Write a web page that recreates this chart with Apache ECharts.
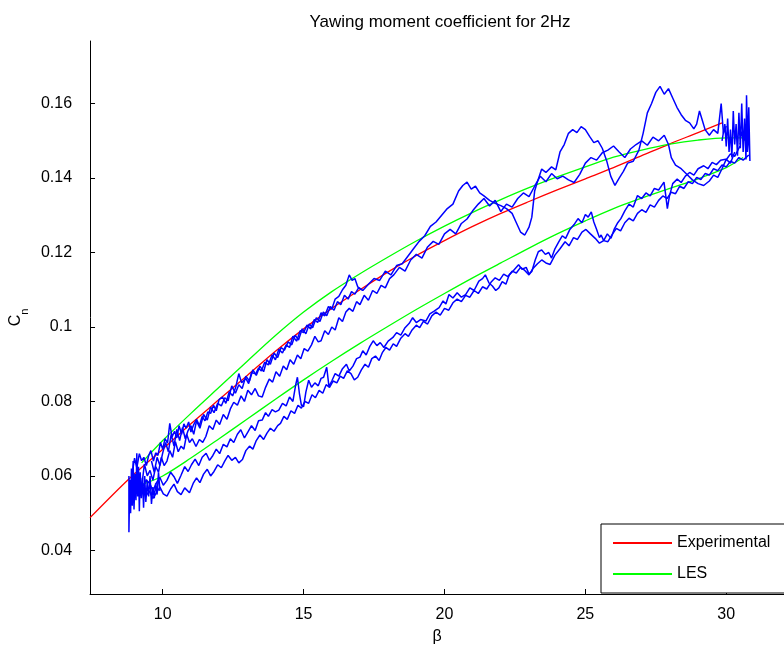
<!DOCTYPE html>
<html><head><meta charset="utf-8">
<script src="https://cdn.jsdelivr.net/npm/echarts@6/dist/echarts.min.js"></script>
<style>html,body{margin:0;padding:0;background:#fff}#c{width:784px;height:650px}</style>
</head><body><div id="c"></div>
<script>
const FONT = "'Liberation Sans', Arial, Helvetica, sans-serif";
const titleText = 'Yawing moment coefficient for 2Hz';
const xTicks = [10, 15, 20, 25, 30];
const yTicks = [0.04, 0.06, 0.08, 0.1, 0.12, 0.14, 0.16];

// Experimental (red)
const expBeta = [7.42, 8.8, 10, 11, 12, 13, 14, 15, 16, 17, 18, 19, 20, 21, 22, 23, 24, 25, 26, 27, 28, 29, 29.85];
const expCn   = [0.0488, 0.0592, 0.0672, 0.0740, 0.0805, 0.0870, 0.0935, 0.0995, 0.1050, 0.1100, 0.1148, 0.1192, 0.1232, 0.1270, 0.1305, 0.1337, 0.1368, 0.1398, 0.1428, 0.1460, 0.1492, 0.1522, 0.1548];

// LES (green) upper and lower branches
const lesBeta  = [9.25, 10, 11, 12, 13, 14, 15, 16, 17, 18, 19, 20, 21, 22, 23, 24, 25, 26, 27, 28, 29, 30, 30.6];
const lesUpCn  = [0.0635, 0.0695, 0.0768, 0.0838, 0.0908, 0.0977, 0.1040, 0.1095, 0.1143, 0.1188, 0.1231, 0.1271, 0.1308, 0.1342, 0.1374, 0.1403, 0.1430, 0.1456, 0.1475, 0.1491, 0.1502, 0.1508, 0.1508];
const lesLoCn  = [0.0577, 0.0600, 0.0648, 0.0700, 0.0753, 0.0806, 0.0858, 0.0908, 0.0956, 0.1002, 0.1047, 0.1090, 0.1132, 0.1172, 0.1212, 0.1250, 0.1285, 0.1318, 0.1346, 0.1372, 0.1398, 0.1428, 0.1455];

// Measured traces (blue), [beta, Cn]
const blueUpperA = [[8.90,0.0600],[9.00,0.0648],[9.08,0.0622],[9.17,0.0660],[9.25,0.0641],[9.33,0.0650],[9.42,0.0628],[9.50,0.0655],[9.58,0.0668],[9.67,0.0640],[9.75,0.0662],[9.83,0.0655],[9.92,0.0690],[10.00,0.0672],[10.08,0.0700],[10.17,0.0688],[10.25,0.0741],[10.33,0.0705],[10.42,0.0720],[10.50,0.0702],[10.58,0.0735],[10.67,0.0712],[10.75,0.0740],[10.83,0.0728],[10.92,0.0745],[11.00,0.0718],[11.10,0.0738],[11.20,0.0752],[11.30,0.0735],[11.40,0.0760],[11.50,0.0748],[11.60,0.0772],[11.70,0.0768],[11.80,0.0790],[11.90,0.0775],[12.00,0.0805],[12.12,0.0812],[12.24,0.0795],[12.36,0.0826],[12.48,0.0815],[12.59,0.0838],[12.70,0.0875],[12.80,0.0850],[12.95,0.0862],[13.05,0.0848],[13.15,0.0878],[13.30,0.0874],[13.40,0.0890],[13.50,0.0882],[13.62,0.0905],[13.75,0.0898],[13.88,0.0925],[14.00,0.0912],[14.12,0.0940],[14.25,0.0930],[14.38,0.0952],[14.50,0.0945],[14.62,0.0975],[14.75,0.0962],[14.88,0.0990],[15.00,0.0985],[15.12,0.1005],[15.25,0.0995],[15.38,0.1020],[15.50,0.1012],[15.62,0.1038],[15.75,0.1030],[15.88,0.1055],[16.00,0.1048],[16.12,0.1075],[16.25,0.1082],[16.38,0.1100],[16.50,0.1112],[16.62,0.1140],[16.72,0.1125],[16.82,0.1130],[16.92,0.1108],[17.10,0.1098],[17.30,0.1115],[17.50,0.1130],[17.70,0.1125],[17.90,0.1150],[18.10,0.1140],[18.30,0.1165],[18.50,0.1170],[18.70,0.1190],[18.90,0.1210],[19.10,0.1230],[19.30,0.1245],[19.50,0.1270],[19.70,0.1282],[19.90,0.1300],[20.10,0.1318],[20.30,0.1330],[20.50,0.1365],[20.65,0.1380],[20.80,0.1389],[20.95,0.1370],[21.10,0.1378],[21.25,0.1360],[21.40,0.1352],[21.60,0.1340],[21.80,0.1332],[22.00,0.1326],[22.20,0.1318],[22.40,0.1305],[22.55,0.1280],[22.70,0.1255],[22.85,0.1247],[23.00,0.1268],[23.10,0.1295],[23.20,0.1365],[23.30,0.1390],[23.45,0.1424],[23.60,0.1415],[23.80,0.1430],[23.95,0.1422],[24.10,0.1470],[24.25,0.1490],[24.40,0.1520],[24.55,0.1530],[24.70,0.1522],[24.85,0.1538],[25.00,0.1530],[25.15,0.1512],[25.30,0.1495],[25.45,0.1500],[25.60,0.1480],[25.75,0.1448],[25.90,0.1405],[26.05,0.1380],[26.20,0.1400],[26.35,0.1418],[26.50,0.1440],[26.70,0.1445],[26.90,0.1475],[27.05,0.1520],[27.20,0.1575],[27.35,0.1600],[27.50,0.1630],[27.65,0.1646],[27.80,0.1625],[27.95,0.1640],[28.10,0.1615],[28.25,0.1590],[28.40,0.1570],[28.55,0.1555],[28.70,0.1548],[28.85,0.1532],[28.95,0.1545],[29.05,0.1580],[29.15,0.1555],[29.25,0.1530],[29.40,0.1515],[29.55,0.1530],[29.70,0.1520],[29.82,0.1600],[29.90,0.1520],[30.00,0.1540]];

const blueUpperB = [[8.85,0.0560],[8.95,0.0612],[9.05,0.0580],[9.15,0.0598],[9.25,0.0570],[9.35,0.0632],[9.45,0.0600],[9.55,0.0615],[9.65,0.0588],[9.75,0.0625],[9.85,0.0610],[9.95,0.0650],[10.05,0.0628],[10.15,0.0640],[10.25,0.0668],[10.35,0.0650],[10.45,0.0692],[10.55,0.0665],[10.65,0.0680],[10.75,0.0672],[10.85,0.0712],[10.95,0.0690],[11.05,0.0700],[11.18,0.0679],[11.30,0.0698],[11.42,0.0690],[11.53,0.0706],[11.65,0.0735],[11.78,0.0725],[11.90,0.0750],[12.02,0.0738],[12.15,0.0765],[12.28,0.0752],[12.40,0.0780],[12.52,0.0798],[12.65,0.0790],[12.78,0.0815],[12.90,0.0800],[13.02,0.0830],[13.15,0.0818],[13.28,0.0835],[13.40,0.0815],[13.53,0.0812],[13.65,0.0838],[13.78,0.0860],[13.90,0.0852],[14.02,0.0880],[14.15,0.0868],[14.28,0.0895],[14.40,0.0885],[14.52,0.0912],[14.65,0.0900],[14.78,0.0925],[14.90,0.0915],[15.02,0.0942],[15.15,0.0935],[15.28,0.0952],[15.40,0.0975],[15.52,0.0960],[15.62,0.0963],[15.75,0.0990],[15.88,0.0980],[16.00,0.1000],[16.12,0.0992],[16.25,0.1025],[16.38,0.1015],[16.50,0.1040],[16.62,0.1050],[16.75,0.1042],[16.88,0.1068],[17.00,0.1060],[17.15,0.1085],[17.30,0.1072],[17.45,0.1098],[17.60,0.1090],[17.75,0.1112],[17.90,0.1105],[18.05,0.1130],[18.20,0.1140],[18.40,0.1160],[18.60,0.1150],[18.80,0.1180],[19.00,0.1195],[19.20,0.1185],[19.40,0.1215],[19.60,0.1230],[19.80,0.1222],[20.00,0.1250],[20.20,0.1262],[20.40,0.1250],[20.60,0.1278],[20.80,0.1290],[21.00,0.1312],[21.20,0.1330],[21.40,0.1345],[21.60,0.1325],[21.80,0.1340],[22.00,0.1310],[22.20,0.1330],[22.40,0.1322],[22.60,0.1345],[22.80,0.1360],[23.00,0.1350],[23.20,0.1378],[23.40,0.1405],[23.60,0.1390],[23.80,0.1412],[24.00,0.1398],[24.20,0.1405],[24.40,0.1395],[24.60,0.1388],[24.80,0.1410],[25.00,0.1440],[25.20,0.1455],[25.40,0.1448],[25.60,0.1468],[25.80,0.1475],[26.00,0.1486],[26.20,0.1470],[26.40,0.1455],[26.60,0.1478],[26.80,0.1490],[27.00,0.1500],[27.20,0.1488],[27.40,0.1510],[27.60,0.1500],[27.80,0.1515],[27.95,0.1490],[28.05,0.1455],[28.20,0.1435],[28.40,0.1425],[28.60,0.1410],[28.80,0.1395],[29.00,0.1385],[29.20,0.1380],[29.40,0.1392],[29.55,0.1408],[29.70,0.1402],[29.85,0.1425],[30.00,0.1450],[30.15,0.1440],[30.30,0.1470]];

const blueUpperC = [[9.60,0.0640],[9.70,0.0610],[9.80,0.0650],[9.90,0.0628],[10.00,0.0662],[10.10,0.0690],[10.20,0.0665],[10.30,0.0712],[10.40,0.0680],[10.50,0.0725],[10.60,0.0695],[10.70,0.0730],[10.80,0.0700],[10.90,0.0722],[11.00,0.0735],[11.10,0.0712],[11.20,0.0748],[11.32,0.0728],[11.45,0.0765],[11.58,0.0750],[11.70,0.0785],[11.82,0.0770],[11.95,0.0795],[12.08,0.0788],[12.20,0.0810],[12.32,0.0802],[12.45,0.0842],[12.58,0.0822],[12.70,0.0845],[12.82,0.0835],[12.95,0.0868],[13.08,0.0855],[13.20,0.0885],[13.32,0.0870],[13.45,0.0895],[13.58,0.0880],[13.70,0.0912],[13.82,0.0900],[13.95,0.0930],[14.08,0.0918],[14.20,0.0945],[14.32,0.0938],[14.45,0.0960],[14.58,0.0952],[14.70,0.0978],[14.82,0.0965],[14.95,0.0995],[15.08,0.0982],[15.20,0.1008],[15.32,0.0998],[15.45,0.1025],[15.58,0.1015],[15.70,0.1040],[15.82,0.1030],[15.95,0.1055],[16.08,0.1045],[16.20,0.1068],[16.32,0.1060],[16.45,0.1085],[16.58,0.1075],[16.70,0.1095],[16.82,0.1088],[16.95,0.1105],[17.08,0.1100]];

const blueLowerA = [[9.30,0.0572],[9.42,0.0590],[9.55,0.0578],[9.65,0.0560],[9.78,0.0582],[9.90,0.0596],[10.02,0.0575],[10.15,0.0588],[10.28,0.0610],[10.40,0.0598],[10.52,0.0580],[10.65,0.0602],[10.78,0.0625],[10.90,0.0612],[11.02,0.0630],[11.15,0.0645],[11.28,0.0628],[11.40,0.0650],[11.54,0.0661],[11.66,0.0642],[11.78,0.0655],[11.90,0.0672],[12.02,0.0660],[12.15,0.0685],[12.28,0.0678],[12.40,0.0700],[12.52,0.0690],[12.65,0.0712],[12.77,0.0724],[12.90,0.0702],[13.02,0.0718],[13.15,0.0735],[13.28,0.0722],[13.40,0.0748],[13.53,0.0750],[13.65,0.0770],[13.75,0.0760],[13.88,0.0778],[14.00,0.0772],[14.12,0.0777],[14.25,0.0795],[14.38,0.0788],[14.50,0.0812],[14.62,0.0800],[14.72,0.0845],[14.78,0.0865],[14.85,0.0822],[14.92,0.0790],[15.00,0.0786],[15.08,0.0825],[15.18,0.0857],[15.28,0.0838],[15.40,0.0850],[15.52,0.0842],[15.62,0.0862],[15.71,0.0865],[15.82,0.0892],[15.90,0.0840],[16.00,0.0855],[16.12,0.0875],[16.25,0.0868],[16.38,0.0888],[16.52,0.0900],[16.62,0.0882],[16.75,0.0895],[16.88,0.0915],[17.00,0.0919],[17.10,0.0936],[17.22,0.0925],[17.35,0.0948],[17.47,0.0963],[17.60,0.0950],[17.72,0.0958],[17.85,0.0945],[18.00,0.0962],[18.17,0.0972],[18.30,0.0985],[18.45,0.0978],[18.60,0.0998],[18.75,0.1010],[18.87,0.1025],[19.00,0.1012],[19.15,0.1020],[19.34,0.1016],[19.48,0.1035],[19.62,0.1042],[19.81,0.1052],[19.95,0.1070],[20.05,0.1062],[20.16,0.1087],[20.30,0.1078],[20.45,0.1092],[20.60,0.1080],[20.75,0.1087],[20.90,0.1105],[21.05,0.1098],[21.22,0.1123],[21.35,0.1130],[21.45,0.1140],[21.58,0.1118],[21.70,0.1110],[21.82,0.1098],[21.93,0.1105],[22.05,0.1122],[22.18,0.1115],[22.30,0.1140],[22.45,0.1152],[22.63,0.1167],[22.75,0.1155],[22.90,0.1160],[23.00,0.1142],[23.10,0.1149],[23.22,0.1180],[23.33,0.1202],[23.45,0.1207],[23.58,0.1195],[23.70,0.1200],[23.80,0.1185],[23.92,0.1210],[24.05,0.1228],[24.18,0.1245],[24.30,0.1238],[24.45,0.1262],[24.60,0.1275],[24.74,0.1291],[24.88,0.1280],[25.00,0.1302],[25.10,0.1295],[25.21,0.1309],[25.30,0.1282],[25.40,0.1262],[25.50,0.1240],[25.56,0.1247],[25.65,0.1232],[25.78,0.1250],[25.91,0.1238],[26.02,0.1262],[26.15,0.1280],[26.26,0.1291],[26.40,0.1312],[26.55,0.1330],[26.70,0.1322],[26.85,0.1353],[27.00,0.1345],[27.15,0.1360],[27.30,0.1352],[27.45,0.1372],[27.60,0.1368],[27.79,0.1389],[27.85,0.1355],[27.91,0.1318],[27.98,0.1350],[28.10,0.1385],[28.26,0.1397],[28.40,0.1388],[28.55,0.1405],[28.70,0.1415],[28.85,0.1408],[29.00,0.1425],[29.20,0.1433],[29.35,0.1425],[29.50,0.1442],[29.65,0.1436],[29.80,0.1448],[30.02,0.1451],[30.15,0.1465],[30.30,0.1458],[30.49,0.1486]];

const blueLowerB = [[9.40,0.0545],[9.52,0.0560],[9.65,0.0540],[9.78,0.0555],[9.90,0.0570],[10.02,0.0552],[10.15,0.0546],[10.28,0.0565],[10.40,0.0578],[10.52,0.0558],[10.65,0.0550],[10.78,0.0568],[10.95,0.0555],[11.08,0.0580],[11.20,0.0595],[11.32,0.0582],[11.45,0.0605],[11.58,0.0618],[11.70,0.0600],[11.82,0.0612],[11.95,0.0630],[12.08,0.0622],[12.20,0.0640],[12.32,0.0655],[12.45,0.0642],[12.58,0.0650],[12.70,0.0635],[12.83,0.0644],[12.95,0.0668],[13.08,0.0680],[13.20,0.0672],[13.32,0.0695],[13.45,0.0710],[13.58,0.0698],[13.70,0.0715],[13.82,0.0728],[13.95,0.0720],[14.08,0.0735],[14.18,0.0741],[14.30,0.0760],[14.42,0.0752],[14.55,0.0775],[14.68,0.0768],[14.80,0.0790],[14.92,0.0782],[15.05,0.0800],[15.18,0.0795],[15.30,0.0818],[15.42,0.0810],[15.55,0.0830],[15.68,0.0822],[15.80,0.0845],[15.92,0.0838],[16.05,0.0855],[16.18,0.0850],[16.30,0.0868],[16.42,0.0862],[16.55,0.0882],[16.68,0.0875],[16.80,0.0858],[16.92,0.0865],[17.05,0.0885],[17.18,0.0900],[17.30,0.0892],[17.42,0.0915],[17.55,0.0922],[17.68,0.0910],[17.80,0.0932],[17.92,0.0945],[18.05,0.0938],[18.18,0.0955],[18.30,0.0948],[18.45,0.0970],[18.60,0.0982],[18.72,0.0975],[18.85,0.0992],[19.00,0.1005],[19.12,0.0998],[19.25,0.1015],[19.40,0.1008],[19.55,0.1030],[19.70,0.1040],[19.85,0.1032],[20.00,0.1050],[20.15,0.1045],[20.30,0.1065],[20.45,0.1075],[20.60,0.1068],[20.75,0.1085],[20.90,0.1080],[21.05,0.1098],[21.20,0.1090],[21.35,0.1108],[21.50,0.1102],[21.65,0.1120],[21.80,0.1132],[21.95,0.1125],[22.10,0.1142],[22.25,0.1135],[22.40,0.1150],[22.55,0.1145],[22.70,0.1160],[22.85,0.1152],[23.00,0.1140],[23.15,0.1158],[23.30,0.1170],[23.45,0.1180],[23.60,0.1172],[23.75,0.1168],[23.92,0.1193],[24.10,0.1210],[24.28,0.1229],[24.42,0.1218],[24.58,0.1240],[24.72,0.1235],[24.88,0.1255],[25.02,0.1262],[25.18,0.1250],[25.35,0.1238],[25.50,0.1225],[25.65,0.1232],[25.80,0.1229],[25.95,0.1248],[26.10,0.1265],[26.25,0.1258],[26.40,0.1280],[26.55,0.1292],[26.70,0.1285],[26.85,0.1305],[27.00,0.1315],[27.15,0.1308],[27.30,0.1328],[27.45,0.1322],[27.60,0.1340],[27.75,0.1352],[27.90,0.1345],[28.05,0.1362],[28.20,0.1358],[28.35,0.1378],[28.50,0.1372],[28.65,0.1390],[28.80,0.1385],[28.95,0.1402],[29.10,0.1396],[29.25,0.1412],[29.40,0.1408],[29.55,0.1425],[29.70,0.1420],[29.85,0.1435],[30.00,0.1430],[30.15,0.1445],[30.30,0.1440],[30.45,0.1455],[30.60,0.1448],[30.80,0.1462]];

const blueLeftEnd = [[8.80,0.0600],[8.80,0.0449],[8.83,0.0590],[8.86,0.0500],[8.89,0.0620],[8.92,0.0520],[8.95,0.0640],[8.98,0.0510],[9.02,0.0605],[9.05,0.0535],[9.08,0.0661],[9.11,0.0545],[9.14,0.0625],[9.17,0.0505],[9.20,0.0610],[9.24,0.0540],[9.28,0.0595],[9.32,0.0515],[9.36,0.0600],[9.40,0.0530],[9.45,0.0585],[9.50,0.0545],[9.55,0.0600],[9.60,0.0525],[9.65,0.0570],[9.70,0.0540],[9.75,0.0580],[9.80,0.0550],[9.85,0.0610],[9.90,0.0560]];

const blueRightEnd = [[29.85,0.1500],[29.95,0.1545],[30.00,0.1485],[30.05,0.1560],[30.10,0.1470],[30.15,0.1530],[30.20,0.1455],[30.25,0.1580],[30.30,0.1490],[30.35,0.1545],[30.40,0.1460],[30.45,0.1575],[30.50,0.1480],[30.55,0.1600],[30.60,0.1470],[30.65,0.1560],[30.70,0.1450],[30.72,0.1622],[30.76,0.1490],[30.80,0.1590],[30.84,0.1446],[30.80,0.1530],[30.75,0.1470],[30.70,0.1545],[30.62,0.1500],[30.55,0.1525],[30.48,0.1490]];

const zip = (a, b) => a.map((v, i) => [v, b[i]]);
const blueTraces = [blueUpperA, blueUpperB, blueUpperC, blueLowerA, blueLowerB, blueLeftEnd, blueRightEnd];

const chart = echarts.init(document.getElementById('c'), null, {renderer: 'canvas'});
const axisCommon = {
  axisLine: {show: true, onZero: false, lineStyle: {color: '#000', width: 1}},
  splitLine: {show: false},
};
const tickStyle = {show: true, inside: true, length: 5, lineStyle: {color: '#000'}};
const series = [
  {name: 'Experimental', type: 'line', data: zip(expBeta, expCn), symbol: 'none', smooth: 0.3,
   lineStyle: {color: '#ff0000', width: 1.3}, itemStyle: {color: '#ff0000'}, z: 2},
  {name: 'LES', type: 'line', data: zip(lesBeta, lesUpCn), symbol: 'none', smooth: 0.3,
   lineStyle: {color: '#00ff00', width: 1.3}, itemStyle: {color: '#00ff00'}, z: 2},
  {name: 'LES', type: 'line', data: zip(lesBeta, lesLoCn), symbol: 'none', smooth: 0.3,
   lineStyle: {color: '#00ff00', width: 1.3}, itemStyle: {color: '#00ff00'}, z: 2},
].concat(blueTraces.map((t, i) => ({
  name: 'Measured ' + (i + 1), type: 'line', data: t, symbol: 'none',
  lineStyle: {color: '#0000ff', width: 1.5}, itemStyle: {color: '#0000ff'}, z: 3
})));

chart.setOption({
  animation: false,
  backgroundColor: '#fff',
  title: {text: titleText, left: 435, top: 9, textAlign: 'center',
    textStyle: {fontFamily: FONT, fontSize: 17, fontWeight: 'normal', color: '#000'}},
  grid: {left: 85, top: 41, width: 700, height: 558, containLabel: false},
  legend: {
    data: ['Experimental', 'LES'], orient: 'vertical', left: 601, top: 524,
    padding: [11, 20, 11, 11], itemWidth: 59, itemHeight: 14, itemGap: 15,
    borderColor: '#000', borderWidth: 1, backgroundColor: '#fff', selectedMode: false,
    itemStyle: {opacity: 0},
    textStyle: {fontFamily: FONT, fontSize: 16, color: '#000'}, z: 10
  },
  xAxis: Object.assign({
    type: 'value', min: 7.42, max: 32.05,
    name: 'β', nameLocation: 'middle', nameGap: 35,
    nameTextStyle: {fontFamily: FONT, fontSize: 16, color: '#000'},
    axisLabel: {customValues: xTicks, margin: 13, fontFamily: FONT, fontSize: 16, color: '#000'},
    axisTick: Object.assign({customValues: xTicks}, tickStyle)
  }, axisCommon),
  yAxis: Object.assign({
    type: 'value', min: 0.0283, max: 0.1768,
    name: '{c|C}{s|n}', nameLocation: 'middle', nameGap: 48, nameRotate: 90,
    nameTextStyle: {fontFamily: FONT, color: '#000', rich: {
      c: {fontFamily: FONT, fontSize: 16, color: '#000', lineHeight: 22, verticalAlign: 'top'},
      s: {fontFamily: FONT, fontSize: 11, color: '#000', lineHeight: 22, verticalAlign: 'bottom'}}},
    axisLabel: {customValues: yTicks, margin: 18, fontFamily: FONT, fontSize: 16, color: '#000',
      formatter: v => String(+(+v).toFixed(2))},
    axisTick: Object.assign({customValues: yTicks}, tickStyle)
  }, axisCommon),
  series: series
});
</script></body></html>
